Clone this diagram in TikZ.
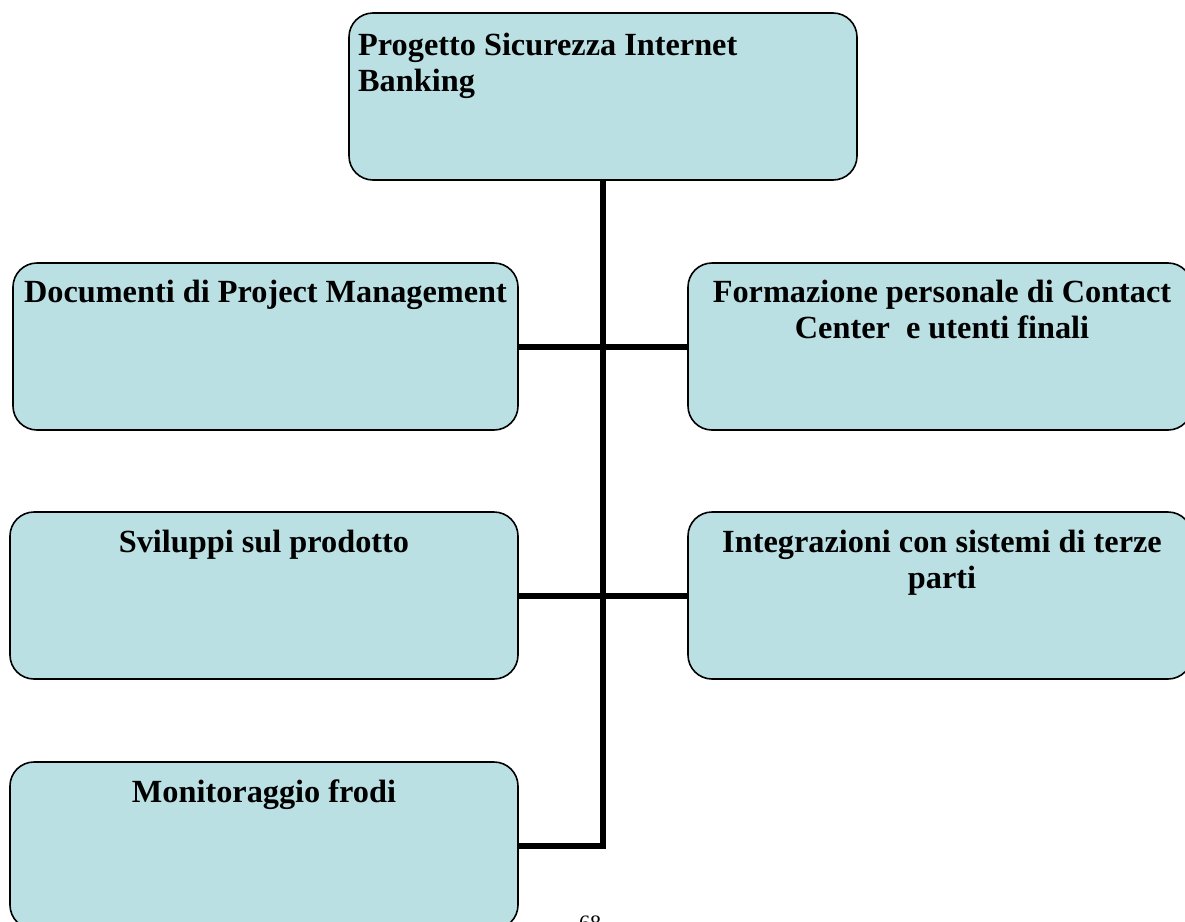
\documentclass[tikz,border=0pt]{standalone}
\usepackage{fontspec}
\setmainfont{Liberation Serif}
\definecolor{boxfill}{HTML}{BBE0E3}
\begin{document}
\begin{tikzpicture}[x=1pt,y=-1pt,
  wbs/.style={draw=black, line width=1.6pt, fill=boxfill, rounded corners=24pt,
    inner sep=0pt, minimum height=167pt},
  wbstext/.style={anchor=base, inner sep=0pt, font=\fontsize{32.3}{36.3}\selectfont\bfseries},
  link/.style={line width=6pt, line join=miter, draw=black}]
\useasboundingbox (0,0) rectangle (1185,921);

% boxes
\node[wbs, minimum width=508pt] (root) at (603,96.5) {};
\node[wbs, minimum width=505pt] (pm)   at (265.5,346.5) {};
\node[wbs, minimum width=504pt] (form) at (940,346.5) {};
\node[wbs, minimum width=508pt] (svil) at (264,595.5) {};
\node[wbs, minimum width=504pt] (integ) at (940,595.5) {};
\node[wbs, minimum width=508pt] (mon)  at (264,845.5) {};

% connectors
\draw[link] (root.south) |- (mon.east);
\draw[link] (pm.east) -- (form.west);
\draw[link] (svil.east) -- (integ.west);

% labels
\node[wbstext, anchor=base west] (troot) at (358,55)
  {\begin{tabular}[t]{@{}l@{}}Progetto Sicurezza Internet\\Banking\end{tabular}};
\node[wbstext] (tpm) at (265.5,302) {Documenti di Project Management};
\node[wbstext] (tform) at (942,302)
  {\begin{tabular}[t]{@{}c@{}}Formazione personale di Contact\\Center\ \ e utenti finali\end{tabular}};
\node[wbstext] (tsvil) at (264,552) {Sviluppi sul prodotto};
\node[wbstext] (tinteg) at (942,552)
  {\begin{tabular}[t]{@{}c@{}}Integrazioni con sistemi di terze\\parti\end{tabular}};
\node[wbstext] (tmon) at (264,802) {Monitoraggio frodi};

% page number
\node[anchor=north, inner sep=0pt, font=\fontsize{22}{26}\selectfont] (pgnum) at (590,916) {68};
\end{tikzpicture}
\end{document}
